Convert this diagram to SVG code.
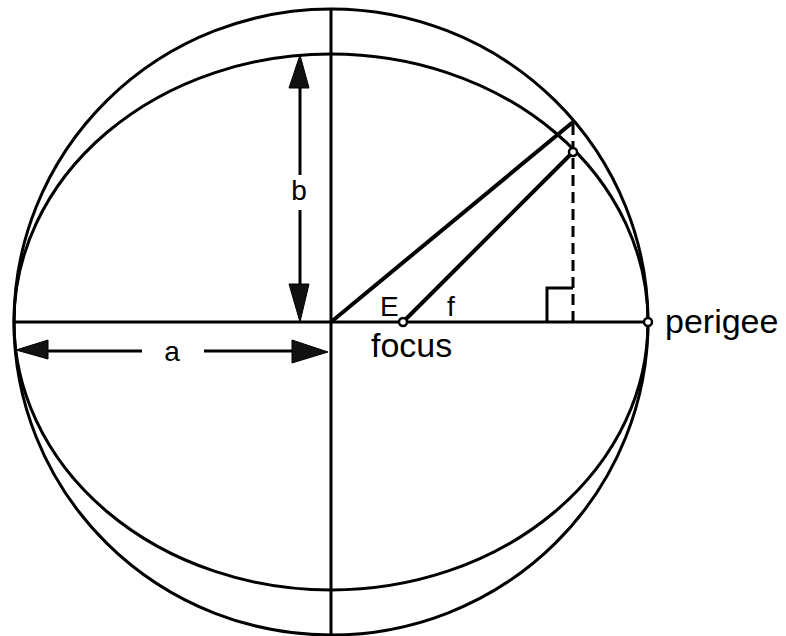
<svg xmlns="http://www.w3.org/2000/svg" width="786" height="636" viewBox="0 0 786 636">
<style>
.ln{fill:none;stroke:#000;stroke-width:3}
.th{fill:none;stroke:#000;stroke-width:4}
.ah{fill:#111;stroke:#000;stroke-width:1}
.pt{fill:#fff;stroke:#000;stroke-width:2.5}
.t{font-family:"Liberation Sans",Arial,sans-serif;fill:#000}
</style>
<rect width="786" height="636" fill="#fff"/>
<g id="circle"><ellipse class="ln" cx="331" cy="322" rx="317" ry="313"/></g>
<g id="ellipse"><ellipse class="ln" cx="331" cy="322" rx="317" ry="268"/></g>
<g id="axes">
<line class="ln" x1="331" y1="8" x2="331" y2="636"/>
<line class="ln" x1="14" y1="322" x2="648" y2="322"/>
</g>
<g id="connectors">
<line class="th" x1="331" y1="322" x2="573" y2="122"/>
<line class="th" x1="403" y1="322" x2="573" y2="152"/>
<line class="ln" x1="573" y1="124" x2="573" y2="322" stroke-dasharray="11,6"/>
<polyline class="ln" points="547,322 547,288 573,288"/>
</g>
<g id="dim-b">
<line class="ln" x1="300" y1="86" x2="300" y2="175"/>
<line class="ln" x1="300" y1="210" x2="300" y2="285"/>
<polygon class="ah" points="300,55 289,88 309,88"/>
<polygon class="ah" points="300,322 289,284 309,284"/>
<text class="t" x="299" y="200" font-size="28" text-anchor="middle">b</text>
</g>
<g id="dim-a">
<line class="ln" x1="46" y1="351" x2="142" y2="351"/>
<line class="ln" x1="204" y1="351" x2="294" y2="351"/>
<polygon class="ah" points="16,350 48,340 48,359"/>
<polygon class="ah" points="328,352 292,340 292,363"/>
<text class="t" x="172" y="361" font-size="28" text-anchor="middle">a</text>
</g>
<g id="focus">
<circle class="pt" cx="403" cy="322" r="4"/>
<text class="t" x="371" y="357" font-size="34">focus</text>
</g>
<g id="point"><circle class="pt" cx="573" cy="152" r="4"/></g>
<g id="perigee">
<circle class="pt" cx="648" cy="322" r="4"/>
<text class="t" x="665" y="333" font-size="34">perigee</text>
</g>
<g id="labels">
<text class="t" x="380" y="316" font-size="28">E</text>
<text class="t" x="447" y="316" font-size="28">f</text>
</g>
</svg>
